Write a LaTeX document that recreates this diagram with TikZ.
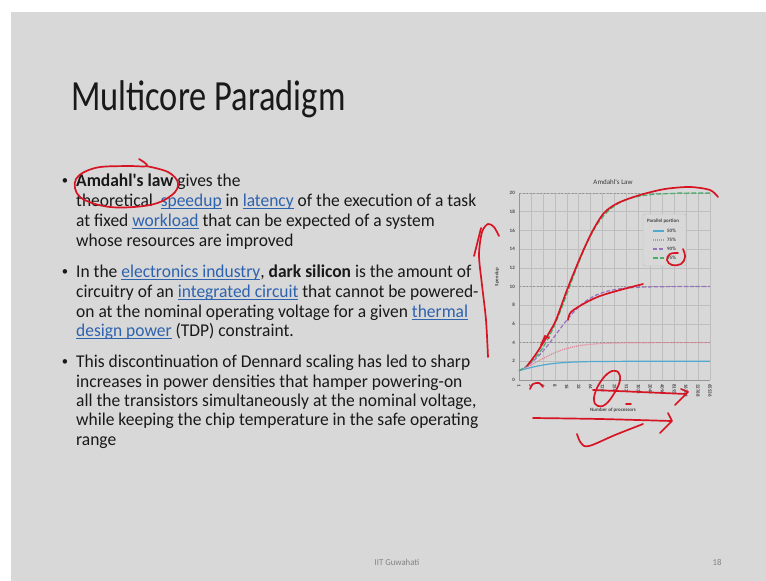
\documentclass[tikz,border=0pt]{standalone}
\usepackage{fontspec}
\newfontfamily\bodyfont[FakeStretch=0.97]{Carlito}
\newfontfamily\titlefont[FakeStretch=0.8]{Carlito}
\newfontfamily\chartfont{Carlito}
\definecolor{slidegray}{RGB}{216,216,216}
\definecolor{ink}{RGB}{25,25,25}
\definecolor{linkblue}{RGB}{45,98,175}
\definecolor{penred}{RGB}{215,20,35}
\definecolor{gridgray}{RGB}{190,190,190}
\definecolor{axisgray}{RGB}{150,150,150}
\definecolor{c50col}{RGB}{80,170,205}
\definecolor{c75col}{RGB}{220,130,150}
\definecolor{c90col}{RGB}{150,115,190}
\definecolor{c95col}{RGB}{70,175,105}
\definecolor{footgray}{RGB}{130,130,130}
\newsavebox\lnkbox
\newcommand\lnk[1]{{\color{linkblue}\sbox\lnkbox{#1}\rlap{\rule[-2.4pt]{\wd\lnkbox}{0.9pt}}\usebox\lnkbox}}
\tikzset{
  slidetext/.style={anchor=base west, inner sep=0pt, text=ink,
    font=\bodyfont\fontsize{18}{20}\selectfont},
  bulletdot/.style={inner sep=0pt, text=ink, font=\bodyfont\fontsize{13}{14}\selectfont},
  pen/.style={draw=penred, line width=1.7pt, line cap=round, line join=round},
  gridline/.style={draw=gridgray, line width=0.5pt},
  asym/.style={draw=axisgray, line width=0.6pt, dash pattern=on 2pt off 1.5pt},
  ticklabel/.style={inner sep=0pt, text=ink!80, font=\chartfont\bfseries\fontsize{5}{6}\selectfont},
  c50/.style={draw=c50col, line width=1.2pt},
  c75/.style={draw=c75col, line width=1.2pt, dash pattern=on 1pt off 1pt},
  c90/.style={draw=c90col, line width=1.2pt, dash pattern=on 4pt off 2pt},
  c95/.style={draw=c95col, line width=1.2pt, dash pattern=on 5pt off 2pt},
}
\begin{document}
\begin{tikzpicture}[x=1pt,y=-1pt]
\useasboundingbox (0,0) rectangle (766,581);
\fill[white] (0,0) rectangle (766,581);
\fill[slidegray] (11,12) rectangle (766,581);

% title
\node[anchor=base west, inner sep=0pt, text=ink, font=\titlefont\fontsize{43}{50}\selectfont]
  (title) at (71,110) {Multicore Paradigm};

% bullets
\node[bulletdot] (dot1) at (65,182) {•};
\node[slidetext] (l11) at (76,186) {\textbf{Amdahl's law} gives the};
\node[slidetext] (l12) at (76,206) {theoretical~ \lnk{speedup} in \lnk{latency} of the execution of a task};
\node[slidetext] (l13) at (76,226) {at fixed \lnk{workload} that can be expected of a system};
\node[slidetext] (l14) at (76,246) {whose resources are improved};

\node[bulletdot] (dot2) at (65,273) {•};
\node[slidetext] (l21) at (76,277) {In the \lnk{electronics industry}, \textbf{dark silicon} is the amount of};
\node[slidetext] (l22) at (76,297) {circuitry of an \lnk{integrated circuit} that cannot be powered-};
\node[slidetext] (l23) at (76,317) {on at the nominal operating voltage for a given \lnk{thermal}};
\node[slidetext] (l24) at (76,336) {\lnk{design power} (TDP) constraint.};

\node[bulletdot] (dot3) at (65,363) {•};
\node[slidetext] (l31) at (76,367) {This discontinuation of Dennard scaling has led to sharp};
\node[slidetext] (l32) at (76,387) {increases in power densities that hamper powering-on};
\node[slidetext] (l33) at (76,406) {all the transistors simultaneously at the nominal voltage,};
\node[slidetext] (l34) at (76,425) {while keeping the chip temperature in the safe operating};
\node[slidetext] (l35) at (76,445) {range};

% footer
\node[inner sep=0pt, text=footgray, font=\bodyfont\fontsize{9}{10}\selectfont] (foot) at (397,562) {IIT Guwahati};
\node[inner sep=0pt, text=footgray, font=\bodyfont\fontsize{9}{10}\selectfont] (page) at (717,562) {18};

% chart: grid
\foreach \k in {0,...,16}
  \draw[gridline] ({519+\k*11.94},193) -- ({519+\k*11.94},380);
\foreach \s in {2,4,...,20}
  \draw[gridline] (519,{380-\s*9.35}) -- (710,{380-\s*9.35});
\foreach \s in {4,10,20}
  \draw[asym] (519,{380-\s*9.35}) -- (710,{380-\s*9.35});
\draw[axisgray, line width=0.6pt] (519,193) -- (519,380) -- (710,380);

% chart: labels
\node[inner sep=0pt, text=ink!85, font=\chartfont\fontsize{7}{8}\selectfont] (ctitle) at (613,182) {Amdahl's Law};
\foreach \s in {0,2,...,20}
  \node[ticklabel, anchor=east] (yl\s) at (515,{380-\s*9.35}) {\s};
\foreach \k/\v in {0/1,1/2,2/4,3/8,4/16,5/32,6/64,7/128,8/256,9/512,10/1024,11/2048,12/4096,13/8192,14/16384,15/32768,16/65536}
  \node[ticklabel, rotate=-90, anchor=west] (xl\k) at ({519+\k*11.94},384) {\v};
\node[ticklabel, rotate=90] (ytitle) at (497,277) {Speedup};
\node[ticklabel] (xtitle) at (613,410) {Number of processors};

% chart: speedup curves
\draw[c50] plot[smooth, domain=0:16, samples=65, variable=\t] ({519+\t*11.94},{380-9.35/(0.5+0.5*pow(0.5,\t))});
\draw[c75] plot[smooth, domain=0:16, samples=65, variable=\t] ({519+\t*11.94},{380-9.35/(0.25+0.75*pow(0.5,\t))});
\draw[c90] plot[smooth, domain=0:16, samples=65, variable=\t] ({519+\t*11.94},{380-9.35/(0.1+0.9*pow(0.5,\t))});
\draw[c95] plot[smooth, domain=0:16, samples=65, variable=\t] ({519+\t*11.94},{380-9.35/(0.05+0.95*pow(0.5,\t))});

% chart: legend
\draw[draw=gridgray, fill=slidegray, rounded corners=1.5pt] (643,214) rectangle (686,266);
\node[ticklabel] (legtitle) at (663,221) {Parallel portion};
\draw[c50] (653,231) -- (664,231);
\draw[c75] (653,240) -- (664,240);
\draw[c90] (653,249) -- (664,249);
\draw[c95] (653,258) -- (664,258);
\node[ticklabel, anchor=west] (leg50) at (667,231) {50\%};
\node[ticklabel, anchor=west] (leg75) at (667,240) {75\%};
\node[ticklabel, anchor=west] (leg90) at (667,249) {90\%};
\node[ticklabel, anchor=west] (leg95) at (667,258) {95\%};

% pen annotations
\draw[pen] plot[smooth, tension=0.6] coordinates {(139,159) (147,166) (125,166) (95,168) (76,179) (80,197) (110,207) (150,205) (172,195) (178,183) (168,172) (146,166)};
\draw[pen] plot[smooth] coordinates {(488,357) (486,320) (482,285) (479,255) (482,232) (488,224) (494,227) (499,236)};
\draw[pen] (474,256) -- (481,228);
\draw[pen] plot[smooth, tension=0.5] coordinates {(527,366) (536,354) (543,343) (549,333) (556,320) (567,290) (580,258) (592,232) (604,213) (618,203) (640,195) (665,189) (690,187) (710,190) (718,197)};
\draw[pen] (541,345) -- (545,336) -- (549,338);
\draw[pen] plot[smooth, tension=0.5] coordinates {(568,320) (571,312) (585,303) (600,296) (620,290) (643,284)};
\draw[pen] plot[smooth, tension=0.7] coordinates {(683,249) (685,257) (681,264) (672,265) (667,260) (670,254) (678,253)};
\draw[pen] plot[smooth] coordinates {(530,389) (533,384) (539,383) (543,387)};
\draw[pen] plot[smooth, tension=0.7] coordinates {(612,371) (605,376) (597,388) (594,400) (598,406) (606,404) (615,392) (620,380) (618,372) (612,371)};
\draw[pen] plot[smooth] coordinates {(593,390) (640,392) (686,394)};
\draw[pen] (675,405) -- (688,392) -- (681,389);
\draw[pen] (626,404) -- (631,404);
\draw[pen] plot[smooth] coordinates {(533,418) (600,419) (671,421)};
\draw[pen] (668,413) -- (672,421) -- (660,433);
\draw[pen] plot[smooth, tension=0.6] coordinates {(577,434) (581,443) (589,446) (615,435) (643,424)};
\end{tikzpicture}
\end{document}
